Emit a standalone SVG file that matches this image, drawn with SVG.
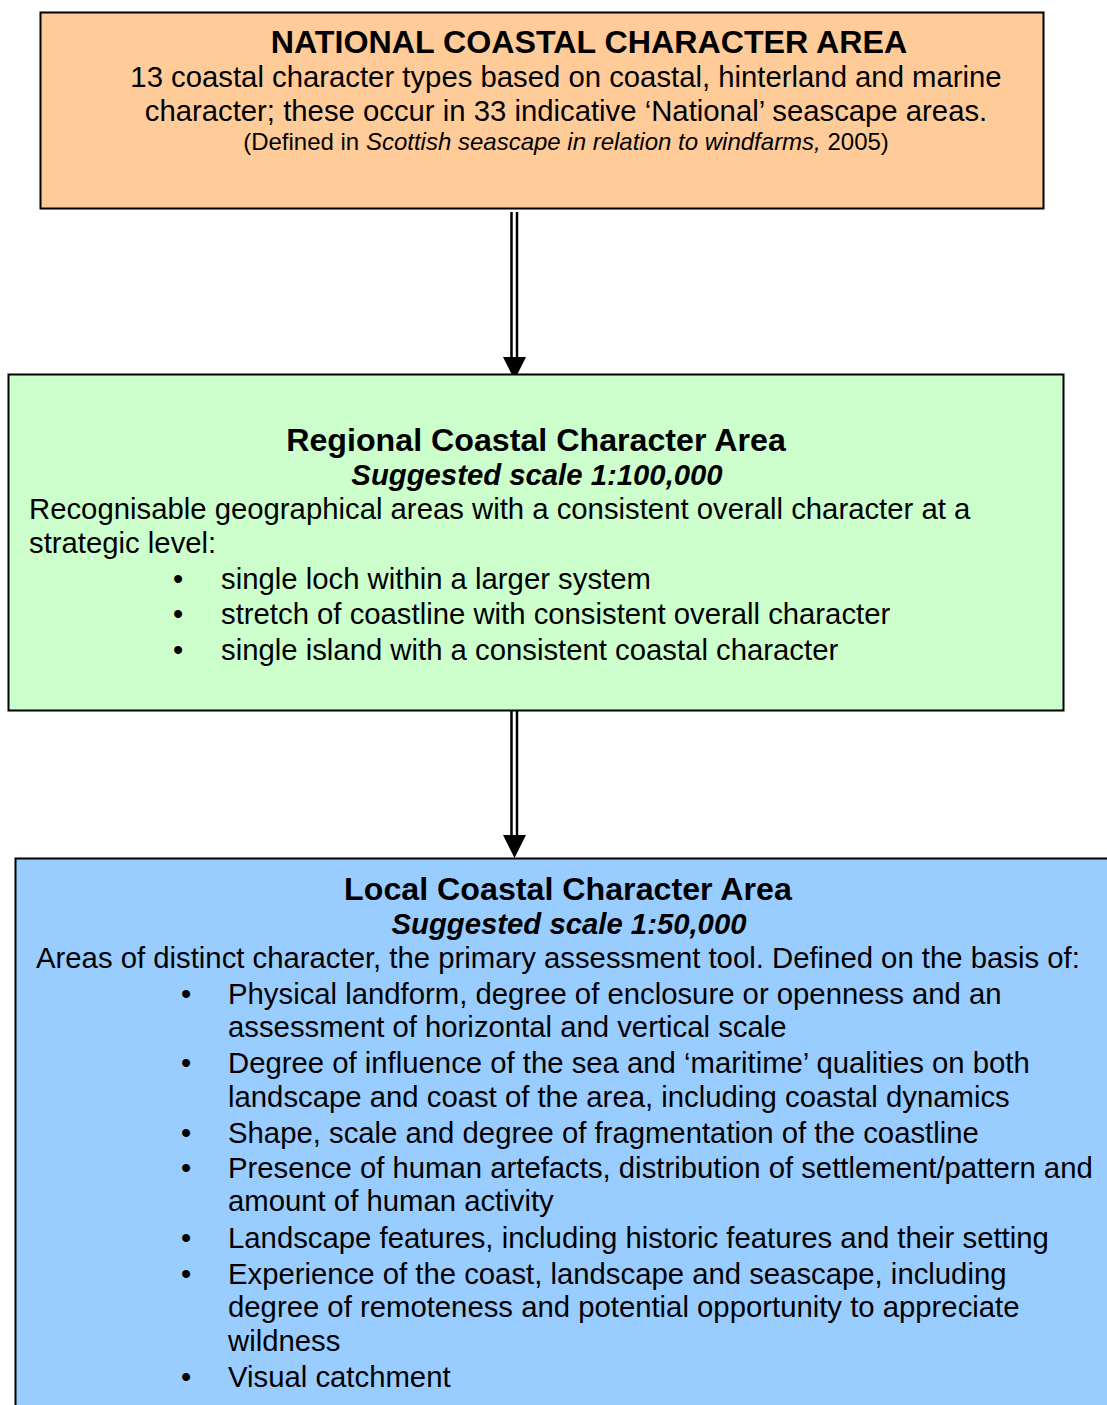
<svg xmlns="http://www.w3.org/2000/svg" width="1107" height="1405" viewBox="0 0 1107 1405">
<style>
text{font-family:"Liberation Sans",Arial,sans-serif;fill:#000}
.t{font-size:32.2px;font-weight:bold}
.s{font-size:29.3px;font-weight:bold;font-style:italic}
.b{font-size:29.3px}
.n{font-size:24px}
.box{stroke:#000;stroke-width:2}
.c{text-anchor:middle}
.ln{stroke:#000;stroke-width:2.5;fill:none}
</style>
<rect width="1107" height="1405" fill="#fff"/>
<g id="connectors">
<line class="ln" x1="511.5" y1="212" x2="511.5" y2="360"/>
<line class="ln" x1="517" y1="212" x2="517" y2="360"/>
<polygon points="503,357 526,357 514.5,380" fill="#000"/>
<line class="ln" x1="511.5" y1="708" x2="511.5" y2="838"/>
<line class="ln" x1="517" y1="708" x2="517" y2="838"/>
<polygon points="503,835 526,835 514.5,858" fill="#000"/>
</g>
<g id="national">
<rect class="box" x="40.5" y="12.5" width="1003" height="196" fill="#FFCC99"/>
<text class="t c" x="589" y="53">NATIONAL COASTAL CHARACTER AREA</text>
<text class="b c" x="566" y="87">13 coastal character types based on coastal, hinterland and marine</text>
<text class="b c" x="566" y="121">character; these occur in 33 indicative ‘National’ seascape areas.</text>
<text class="n c" x="566" y="150">(Defined in <tspan font-style="italic">Scottish seascape in relation to windfarms,</tspan> 2005)</text>
</g>
<g id="regional">
<rect class="box" x="8.5" y="374.5" width="1055" height="336" fill="#CCFFCC"/>
<text class="t c" x="536" y="451">Regional Coastal Character Area</text>
<text class="s c" x="537" y="485">Suggested scale 1:100,000</text>
<text class="b" x="29" y="519">Recognisable geographical areas with a consistent overall character at a</text>
<text class="b" x="29" y="553">strategic level:</text>
<text class="b" x="173" y="589">•</text><text class="b" x="221" y="589">single loch within a larger system</text>
<text class="b" x="173" y="624">•</text><text class="b" x="221" y="624">stretch of coastline with consistent overall character</text>
<text class="b" x="173" y="660">•</text><text class="b" x="221" y="660">single island with a consistent coastal character</text>
</g>
<g id="local">
<rect class="box" x="15.5" y="858.5" width="1100" height="560" fill="#99CCFF"/>
<text class="t c" x="568" y="900">Local Coastal Character Area</text>
<text class="s c" x="569" y="934">Suggested scale 1:50,000</text>
<text class="b" x="36" y="968">Areas of distinct character, the primary assessment tool. Defined on the basis of:</text>
<text class="b" x="181" y="1004">•</text><text class="b" x="228" y="1004">Physical landform, degree of enclosure or openness and an</text>
<text class="b" x="228" y="1037">assessment of horizontal and vertical scale</text>
<text class="b" x="181" y="1073">•</text><text class="b" x="228" y="1073">Degree of influence of the sea and ‘maritime’ qualities on both</text>
<text class="b" x="228" y="1107">landscape and coast of the area, including coastal dynamics</text>
<text class="b" x="181" y="1143">•</text><text class="b" x="228" y="1143">Shape, scale and degree of fragmentation of the coastline</text>
<text class="b" x="181" y="1178">•</text><text class="b" x="228" y="1178">Presence of human artefacts, distribution of settlement/pattern and</text>
<text class="b" x="228" y="1211">amount of human activity</text>
<text class="b" x="181" y="1248">•</text><text class="b" x="228" y="1248">Landscape features, including historic features and their setting</text>
<text class="b" x="181" y="1284">•</text><text class="b" x="228" y="1284">Experience of the coast, landscape and seascape, including</text>
<text class="b" x="228" y="1317">degree of remoteness and potential opportunity to appreciate</text>
<text class="b" x="228" y="1351">wildness</text>
<text class="b" x="181" y="1387">•</text><text class="b" x="228" y="1387">Visual catchment</text>
</g>
</svg>
